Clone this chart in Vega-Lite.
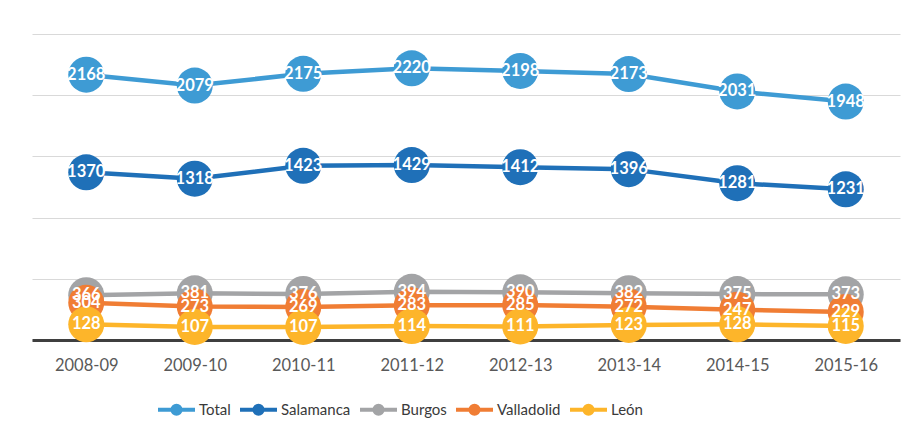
{
  "$schema": "https://vega.github.io/schema/vega-lite/v6.json",
  "width": 868,
  "height": 306,
  "autosize": "none",
  "padding": {"left": 32, "top": 34, "right": 16, "bottom": 93},
  "background": "white",
  "config": {"view": {"stroke": null}, "font": "Lato"},
  "data": {
    "values": [
      {"season": "2008-09", "series": "Total", "value": 2168},
      {"season": "2009-10", "series": "Total", "value": 2079},
      {"season": "2010-11", "series": "Total", "value": 2175},
      {"season": "2011-12", "series": "Total", "value": 2220},
      {"season": "2012-13", "series": "Total", "value": 2198},
      {"season": "2013-14", "series": "Total", "value": 2173},
      {"season": "2014-15", "series": "Total", "value": 2031},
      {"season": "2015-16", "series": "Total", "value": 1948},
      {"season": "2008-09", "series": "Salamanca", "value": 1370},
      {"season": "2009-10", "series": "Salamanca", "value": 1318},
      {"season": "2010-11", "series": "Salamanca", "value": 1423},
      {"season": "2011-12", "series": "Salamanca", "value": 1429},
      {"season": "2012-13", "series": "Salamanca", "value": 1412},
      {"season": "2013-14", "series": "Salamanca", "value": 1396},
      {"season": "2014-15", "series": "Salamanca", "value": 1281},
      {"season": "2015-16", "series": "Salamanca", "value": 1231},
      {"season": "2008-09", "series": "Burgos", "value": 366},
      {"season": "2009-10", "series": "Burgos", "value": 381},
      {"season": "2010-11", "series": "Burgos", "value": 376},
      {"season": "2011-12", "series": "Burgos", "value": 394},
      {"season": "2012-13", "series": "Burgos", "value": 390},
      {"season": "2013-14", "series": "Burgos", "value": 382},
      {"season": "2014-15", "series": "Burgos", "value": 375},
      {"season": "2015-16", "series": "Burgos", "value": 373},
      {"season": "2008-09", "series": "Valladolid", "value": 304},
      {"season": "2009-10", "series": "Valladolid", "value": 273},
      {"season": "2010-11", "series": "Valladolid", "value": 269},
      {"season": "2011-12", "series": "Valladolid", "value": 283},
      {"season": "2012-13", "series": "Valladolid", "value": 285},
      {"season": "2013-14", "series": "Valladolid", "value": 272},
      {"season": "2014-15", "series": "Valladolid", "value": 247},
      {"season": "2015-16", "series": "Valladolid", "value": 229},
      {"season": "2008-09", "series": "León", "value": 128},
      {"season": "2009-10", "series": "León", "value": 107},
      {"season": "2010-11", "series": "León", "value": 107},
      {"season": "2011-12", "series": "León", "value": 114},
      {"season": "2012-13", "series": "León", "value": 111},
      {"season": "2013-14", "series": "León", "value": 123},
      {"season": "2014-15", "series": "León", "value": 128},
      {"season": "2015-16", "series": "León", "value": 115}
    ]
  },
  "encoding": {
    "x": {
      "field": "season",
      "type": "ordinal",
      "sort": null,
      "scale": {"type": "point", "padding": 0.5},
      "axis": {
        "title": null,
        "labelAngle": 0,
        "ticks": false,
        "labelPadding": 17,
        "labelFont": "Lato",
        "labelFontSize": 16.5,
        "labelColor": "#595959",
        "domainColor": "#3F3F3F",
        "domainWidth": 3,
        "grid": false
      }
    },
    "y": {
      "field": "value",
      "type": "quantitative",
      "scale": {"domain": [0, 2500], "nice": false},
      "axis": {
        "title": null,
        "values": [0, 500, 1000, 1500, 2000, 2500],
        "labels": false,
        "ticks": false,
        "domain": false,
        "grid": true,
        "gridColor": "#D9D9D9",
        "gridWidth": 1
      }
    },
    "color": {
      "field": "series",
      "type": "nominal",
      "sort": null,
      "scale": {
        "domain": ["Total", "Salamanca", "Burgos", "Valladolid", "León"],
        "range": ["#3E9BD4", "#1F70B8", "#A3A4A6", "#F07D34", "#FDB52A"]
      },
      "legend": {
        "orient": "none",
        "legendX": 124,
        "legendY": 355,
        "direction": "horizontal",
        "title": null,
        "symbolType": "M-1,0L1,0M0.22,0A0.22,0.22,0,1,1,-0.22,0A0.22,0.22,0,1,1,0.22,0Z",
        "symbolSize": 1369,
        "symbolStrokeWidth": 4,
        "symbolOpacity": 1,
        "labelFont": "Lato",
        "labelFontSize": 15,
        "labelColor": "#3A3A3A",
        "labelOffset": 2,
        "columnPadding": 1,
        "encode": {
          "symbols": {
            "update": {
              "fill": {"scale": "color", "field": "value"},
              "stroke": {"scale": "color", "field": "value"},
              "opacity": {"value": 1}
            }
          }
        }
      }
    }
  },
  "layer": [
    {"mark": {"type": "line", "strokeWidth": 4.5}},
    {"mark": {"type": "point", "shape": "circle", "filled": true, "size": 1296, "opacity": 1}},
    {
      "mark": {"type": "text", "fontWeight": "bold", "fontSize": 16.5, "font": "Lato", "baseline": "middle", "align": "center"},
      "encoding": {
        "text": {"field": "value", "type": "quantitative"},
        "color": {"value": "white"}
      }
    }
  ]
}
